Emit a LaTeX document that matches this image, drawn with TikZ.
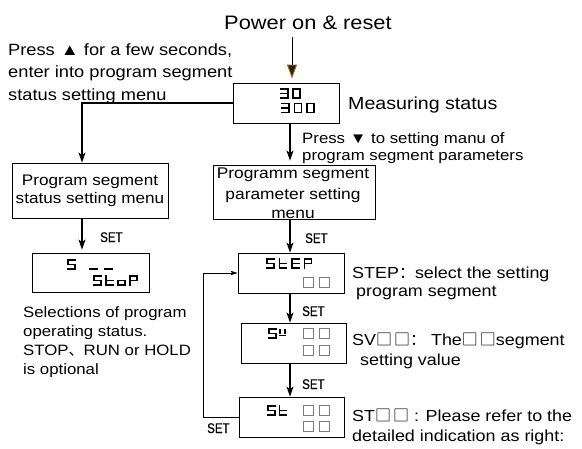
\documentclass[tikz,border=0pt]{standalone}
\usepackage{fontspec}
\setmainfont{Liberation Sans}[FakeStretch=1.12]
\newfontfamily\cjk{Noto Sans CJK SC}
\newfontfamily\setfnt{Liberation Sans}[FakeStretch=0.82,FakeBold=0.6]
\usetikzlibrary{arrows.meta}
\definecolor{tipfill}{RGB}{45,35,20}
\definecolor{tipedge}{RGB}{150,110,40}
\definecolor{sqgray}{RGB}{125,125,125}
\tikzset{
  box/.style={draw, line width=0.9pt, inner sep=0pt},
  txt/.style={inner sep=0pt, anchor=base west},
  settxt/.style={inner sep=0pt, anchor=base west, font=\setfnt\fontsize{14}{16}\selectfont},
  arr/.style={-{Stealth[length=10pt,width=7pt,inset=2.5pt]}, line width=1.1pt},
  looparr/.style={-{Stealth[length=7pt,width=4.5pt,inset=1.5pt]}, line width=0.7pt},
  toparr/.style={-{Triangle[length=14pt,width=10pt,fill=tipfill,color=tipedge]}, line width=0.9pt},
  seg/.style={line width=1.15pt, line cap=rect},
  sq/.style={draw=sqgray, line width=0.7pt},
  sg/a/.code={\draw[seg] (0,0)--(7,0);},
  sg/b/.code={\draw[seg] (7,0)--(7,4.5);},
  sg/c/.code={\draw[seg] (7,4.5)--(7,9);},
  sg/d/.code={\draw[seg] (0,9)--(7,9);},
  sg/e/.code={\draw[seg] (0,4.5)--(0,9);},
  sg/f/.code={\draw[seg] (0,0)--(0,4.5);},
  sg/g/.code={\draw[seg] (0,4.5)--(7,4.5);},
  sg/v1/.code={\draw[seg] (0,1)--(0,4);},
  sg/v2/.code={\draw[seg] (5,1)--(5,4);},
  sg/v3/.code={\draw[seg] (0,6.5)--(5,6.5);},
}
\newcommand\glyph[3]{\begin{scope}[shift={(#1,#2)}]\foreach \s in {#3}{\tikzset{sg/\s}}\end{scope}}
\newcommand\twosq[2]{\draw[sq] (#1,#2) rectangle ++(10.5,10); \draw[sq] (#1+16,#2) rectangle ++(10.5,10);}
\begin{document}
\begin{tikzpicture}[x=1pt,y=-1pt]
\useasboundingbox (0,0) rectangle (582,448);

% title
\node[txt, font=\fontsize{19.5}{22}\selectfont] (title) at (224,29) {Power on \& reset};

% left instruction text
\node[txt, font=\fontsize{16.3}{20}\selectfont] (l1) at (8,55) {Press\hspace{6pt}▲ for a few seconds,};
\node[txt, font=\fontsize{16.3}{20}\selectfont] (l2) at (8,77.5) {enter into program segment};
\node[txt, font=\fontsize{16.3}{20}\selectfont] (l3) at (8,100) {status setting menu};

% measuring box
\node[box, minimum width=106pt, minimum height=40pt] (meas) at (286,103) {};
\glyph{281}{89}{a,b,c,d,g}
\glyph{293}{89}{a,b,c,d,e,f}
\glyph{282}{103.5}{a,b,c,d,g}
\glyph{294.5}{103.5}{a,b,c,d,e,f}
\glyph{307}{103.5}{a,b,c,d,e,f}
\node[txt, font=\fontsize{17.5}{20}\selectfont] (mtxt) at (348,109) {Measuring status};

% top arrow
\coordinate (colA) at (292,37);
\draw[toparr, shorten >=4pt] (colA) -- (colA |- meas.north);

% press down text
\node[txt, font=\fontsize{15}{17}\selectfont] (p1) at (302,143) {Press ▼ to setting manu of};
\node[txt, font=\fontsize{15}{17}\selectfont] (p2) at (302,160) {program segment parameters};

% left branch
\node[box, minimum width=156pt, minimum height=55pt, align=center, font=\fontsize{15.3}{18}\selectfont] (lbox) at (90,190.5) {Program segment\\status setting menu};
\coordinate (colL) at (82,0);
\draw[arr] (meas.west) -| (lbox.north -| colL);

\node[box, minimum width=117pt, minimum height=39pt] (ldisp) at (90.5,272.5) {};
\draw[arr, shorten >=3pt] (lbox.south -| colL) -- (ldisp.north -| colL);
\node[settxt] (set0) at (100,242) {SET};
\glyph{68}{260}{a,f,g,c,d}
\glyph{90}{260}{d}
\glyph{105}{260}{d}
\glyph{94}{276}{a,f,g,c,d}
\glyph{106}{276}{f,e,g,d}
\glyph{118}{276}{g,c,d,e}
\glyph{130}{276}{a,b,f,g,e}

\node[txt, font=\fontsize{15}{19}\selectfont] (s1) at (23,317) {Selections of program};
\node[txt, font=\fontsize{15}{19}\selectfont] (s2) at (23,336) {operating status.};
\node[txt, font=\fontsize{15}{19}\selectfont] (s3) at (23,355) {STOP{\cjk 、}RUN or HOLD};
\node[txt, font=\fontsize{15}{19}\selectfont] (s4) at (23,374) {is optional};

% right column
\coordinate (colB) at (290,0);
\node[box, minimum width=162pt, minimum height=54pt] (param) at (294,192) {};
\node[inner sep=0pt, anchor=base, font=\fontsize{15.5}{20}\selectfont] (pa1) at (293,178) {Programm segment};
\node[inner sep=0pt, anchor=base, font=\fontsize{15.5}{20}\selectfont] (pa2) at (293,199) {parameter setting};
\node[inner sep=0pt, anchor=base, font=\fontsize{15.5}{20}\selectfont] (pa3) at (293,218) {menu};
\draw[arr, shorten >=4pt] (meas.south -| colB) -- (param.north -| colB);

\node[box, minimum width=106pt, minimum height=40pt] (step) at (291,273) {};
\draw[arr] (param.south -| colB) -- (step.north -| colB);
\node[settxt] (set1) at (305,243) {SET};
\glyph{267}{259}{a,f,g,c,d}
\glyph{279.5}{259}{f,e,g,d}
\glyph{292}{259}{a,f,g,e,d}
\glyph{304.5}{259}{a,b,f,g,e}
\twosq{303}{277}

\node[box, minimum width=105pt, minimum height=40pt] (sv) at (293.5,343) {};
\draw[arr] (step.south -| colB) -- (sv.north -| colB);
\node[settxt] (set2) at (302,316) {SET};
\glyph{269}{329}{a,f,g,c,d}
\glyph{280}{329}{v1,v2,v3}
\twosq{303}{328}
\twosq{303}{345}

\node[box, minimum width=105pt, minimum height=40pt] (st) at (291.5,417) {};
\draw[arr] (sv.south -| colB) -- (st.north -| colB);
\node[settxt] (set3) at (302,389) {SET};
\glyph{268}{406}{a,f,g,c,d}
\glyph{279.5}{406}{f,e,g,d}
\twosq{303}{405}
\twosq{303}{421}

% loop back
\draw[looparr] (st.west) -- ++(-35,0) |- (step.west);
\node[settxt] (set4) at (207,433) {SET};

% right descriptions
\node[txt, font=\fontsize{16}{19}\selectfont] (t1) at (352,278) {STEP{\cjk ：}select the setting};
\node[txt, font=\fontsize{16}{19}\selectfont] (t2) at (356,296) {program segment};
\node[txt, font=\fontsize{16}{19}\selectfont] (t3) at (352,345) {SV{\cjk □\hspace{2pt}□：} The{\cjk □\hspace{2pt}□}segment};
\node[txt, font=\fontsize{16}{19}\selectfont] (t4) at (360,365) {setting value};
\node[txt, font=\fontsize{16}{19}\selectfont] (t5) at (352,421) {ST{\cjk □\hspace{2pt}□} : Please refer to the};
\node[txt, font=\fontsize{16}{19}\selectfont] (t6) at (352,441) {detailed indication as right:};
\end{tikzpicture}
\end{document}
